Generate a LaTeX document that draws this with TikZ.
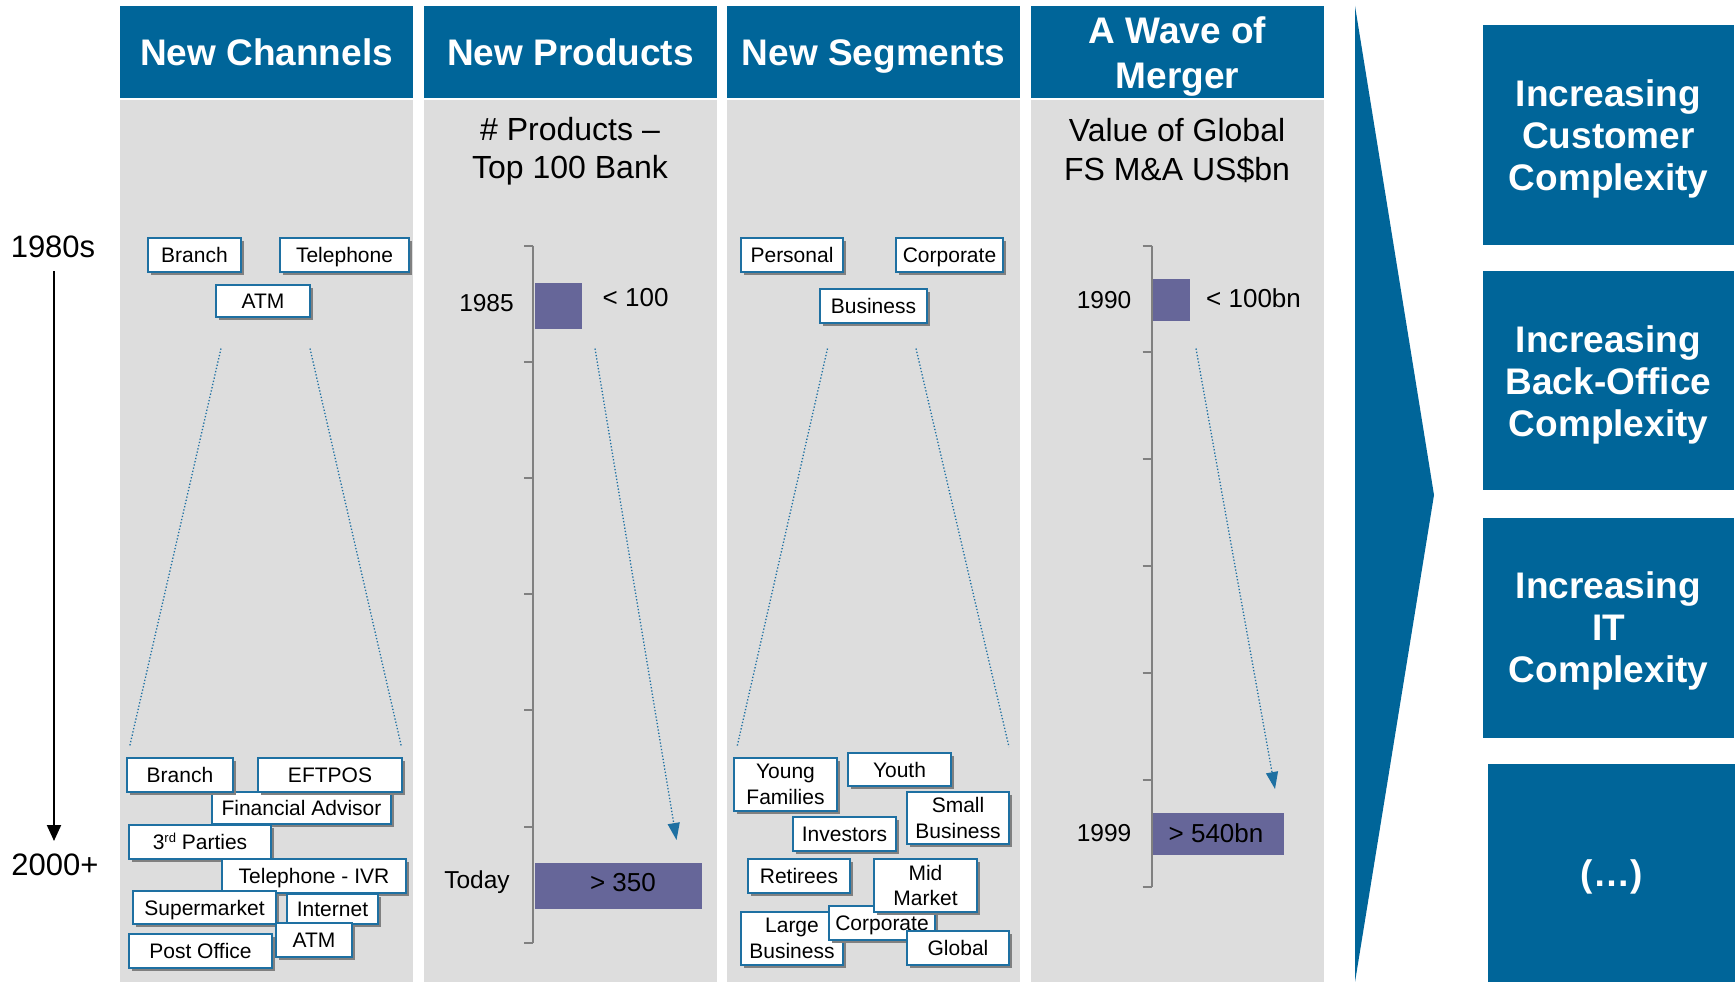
\documentclass[tikz,border=0pt]{standalone}
\usepackage{fontspec}
\setmainfont{Liberation Sans}
\usetikzlibrary{shadows,arrows.meta}
\definecolor{hblue}{RGB}{0,101,153}
\definecolor{bblue}{RGB}{30,112,162}
\definecolor{bodygrey}{RGB}{221,221,221}
\definecolor{barcol}{RGB}{102,102,153}
\definecolor{axisgrey}{RGB}{128,128,128}
\newcommand\lb[6]{\node[lbl,oneline,minimum width=#4pt,minimum height=#5pt] (#1) at (#2,#3) {#6};}
\newcommand\lbb[6]{\node[lbl,minimum width=#4pt,minimum height=#5pt] (#1) at (#2,#3) {#6};}
\begin{document}
\begin{tikzpicture}[x=1pt,y=-1pt,
  hdr/.style={fill=hblue,text=white,font=\fontsize{37}{45}\selectfont\bfseries,minimum width=293pt,minimum height=92pt,inner sep=0pt,align=center},
  hdrone/.style={text height=30pt,text depth=3.5pt},
  lbl/.style={draw=bblue,line width=1.3pt,fill=white,inner sep=0pt,align=center,font=\fontsize{21}{25.5}\selectfont,drop shadow={shadow xshift=3pt,shadow yshift=-3pt,fill=black!50,opacity=1}},
  oneline/.style={text height=19.5pt,text depth=4.5pt},
  sub/.style={align=center,font=\fontsize{32}{38.5}\selectfont,inner sep=0pt},
  yr/.style={font=\fontsize{24.5}{28}\selectfont,inner sep=0pt},
  val/.style={font=\fontsize{26}{30}\selectfont,inner sep=0pt},
  barn/.style={fill=barcol,draw=none,inner sep=0pt},
  axisline/.style={draw=axisgrey,line width=2pt},
  funnel/.style={draw=bblue,line width=1.3pt,dash pattern=on 1.3pt off 2pt},
  darrow/.style={draw=bblue,line width=1.3pt,dash pattern=on 1.3pt off 2pt,-{Triangle[width=12pt,length=17pt,fill=bblue]}},
  rbox/.style={fill=hblue,inner sep=0pt},
  rtext/.style={text=white,font=\fontsize{37}{42}\selectfont\bfseries,inner sep=0pt,align=center},
  tl/.style={font=\fontsize{31}{36}\selectfont,inner sep=0pt}
]
\useasboundingbox (0,0) rectangle (1735,982);
\fill[white] (0,0) rectangle (1735,982);

% column bodies and headers
\foreach \cx in {120,424,727,1031}{
  \fill[bodygrey] (\cx,99.5) rectangle (\cx+292.5,982);
}
\node[hdr,hdrone] (h1) at (266.5,52) {New Channels};
\node[hdr,hdrone] (h2) at (570.5,52) {New Products};
\node[hdr,hdrone] (h3) at (873.5,52) {New Segments};
\node[hdr] (h4) at (1177.5,52) {};
\node[rtext,font=\fontsize{37}{45}\selectfont\bfseries] (h4t) at (1177.5,57) {A Wave of\\Merger};

% timeline
\node[tl] (t1) at (53,247) {1980s};
\node[tl] (t2) at (55,865) {2000+};
\coordinate (ta) at (54,271);
\coordinate (tb) at (54,841);
\draw[line width=2pt,-{Triangle[width=14pt,length=16pt]}] (ta) -- (tb);

% ---- column 1 ----
\lb{c1a}{194.5}{255}{93}{34}{Branch}
\lb{c1b}{344.5}{255}{129}{34}{Telephone}
\lb{c1c}{263}{301}{94}{32}{ATM}
\coordinate (f1a) at (221,348.5);
\coordinate (f1b) at (129.5,747);
\coordinate (f1c) at (310,348.5);
\coordinate (f1d) at (401.5,747);
\draw[funnel] (f1a) -- (f1b);
\draw[funnel] (f1c) -- (f1d);
\lb{d3}{301.5}{808}{179}{32}{Financial Advisor}
\lb{d1}{180}{775}{106}{34}{Branch}
\lb{d2}{330}{775}{144}{34}{EFTPOS}
\lb{d4}{200}{842}{142}{34}{3{\fontsize{13}{15}\selectfont\raisebox{7pt}{rd}} Parties}
\lb{d5}{314}{876}{184}{34}{Telephone - IVR}
\lb{d6}{204.5}{907.5}{143}{33}{Supermarket}
\lb{d7}{332.5}{909}{91}{30}{Internet}
\lb{d8}{314}{940}{76}{34}{ATM}
\lb{d9}{200.5}{951}{143}{34}{Post Office}

% ---- column 2 ----
\node[sub] (s2) at (570,151) {\# Products --\\Top 100 Bank};
\draw[axisline] (533.3,245.6) -- (533.3,942.8);
\foreach \k in {0,...,6}{
  \draw[axisline] (524,245.6+116.2*\k) -- (533.3,245.6+116.2*\k);
}
\node[barn,minimum width=47pt,minimum height=46pt] (pb1) at (558.5,306) {};
\node[barn,minimum width=167pt,minimum height=46pt] (pb2) at (618.5,886) {};
\node[yr] (py1) at (486.5,303) {1985};
\node[yr] (py2) at (477,882) {Today};
\node[val,anchor=west] (pv1) at (602.5,298) {< 100};
\node[val] (pv2) at (623,883) {> 350};
\coordinate (pa1) at (595,348.5);
\coordinate (pa2) at (676.5,840);
\draw[darrow] (pa1) -- (pa2);

% ---- column 3 ----
\lb{e1}{792}{255}{102}{34}{Personal}
\lb{e2}{949.5}{255}{107}{34}{Corporate}
\lb{e3}{873.5}{306}{107}{34}{Business}
\coordinate (f3a) at (827.5,348.5);
\coordinate (f3b) at (737,747);
\coordinate (f3c) at (916,348.5);
\coordinate (f3d) at (1009,747);
\draw[funnel] (f3a) -- (f3b);
\draw[funnel] (f3c) -- (f3d);
\lbb{g1}{785.5}{784.5}{103}{53}{Young\\Families}
\lb{g2}{899.5}{769.5}{103}{33}{Youth}
\lbb{g3}{958}{818}{102}{52}{Small\\Business}
\lb{g4}{844.5}{834}{103}{34}{Investors}
\lb{g5}{799}{876}{102}{34}{Retirees}
\lbb{g6}{792}{938.5}{102}{53}{Large\\Business}
\lb{g7}{882}{923}{106}{34}{Corporate}
\lbb{g8}{925.5}{885.5}{103}{53}{Mid\\Market}
\lb{g9}{958}{948}{102}{34}{Global}

% ---- column 4 ----
\node[sub] (s4) at (1177,150.5) {Value of Global\\FS M\&A US\$bn};
\draw[axisline] (1151.7,245.6) -- (1151.7,886.8);
\foreach \k in {0,...,6}{
  \draw[axisline] (1142.5,245.6+106.87*\k) -- (1151.7,245.6+106.87*\k);
}
\node[barn,minimum width=37pt,minimum height=42pt] (mb1) at (1171.5,300) {};
\node[barn,minimum width=131pt,minimum height=42pt] (mb2) at (1218.5,834) {};
\node[yr] (my1) at (1104,300) {1990};
\node[yr] (my2) at (1104,833) {1999};
\node[val,anchor=west] (mv1) at (1206,298) {< 100bn};
\node[val] (mv2) at (1216,833) {> 540bn};
\coordinate (ma1) at (1196,348.5);
\coordinate (ma2) at (1275,789);
\draw[darrow] (ma1) -- (ma2);

% ---- chevron ----
\fill[hblue] (1355,6) -- (1434,495) -- (1355,982) -- cycle;

% ---- right boxes ----
\node[rbox,minimum width=251pt,minimum height=219pt] (r1) at (1608.5,135) {};
\node[rbox,minimum width=251pt,minimum height=219pt] (r2) at (1608.5,380.5) {};
\node[rbox,minimum width=251pt,minimum height=220pt] (r3) at (1608.5,628) {};
\node[rbox,minimum width=247pt,minimum height=218pt] (r4) at (1611.5,873) {};
\node[rtext] (r1t) at (1608.5,139) {Increasing\\Customer\\Complexity};
\node[rtext] (r2t) at (1608.5,384.5) {Increasing\\Back-Office\\Complexity};
\node[rtext] (r3t) at (1608.5,631) {Increasing\\IT\\Complexity};
\node[rtext,text height=30pt,text depth=3.5pt] (r4t) at (1611.5,873) {(\ldots)};
\end{tikzpicture}
\end{document}
